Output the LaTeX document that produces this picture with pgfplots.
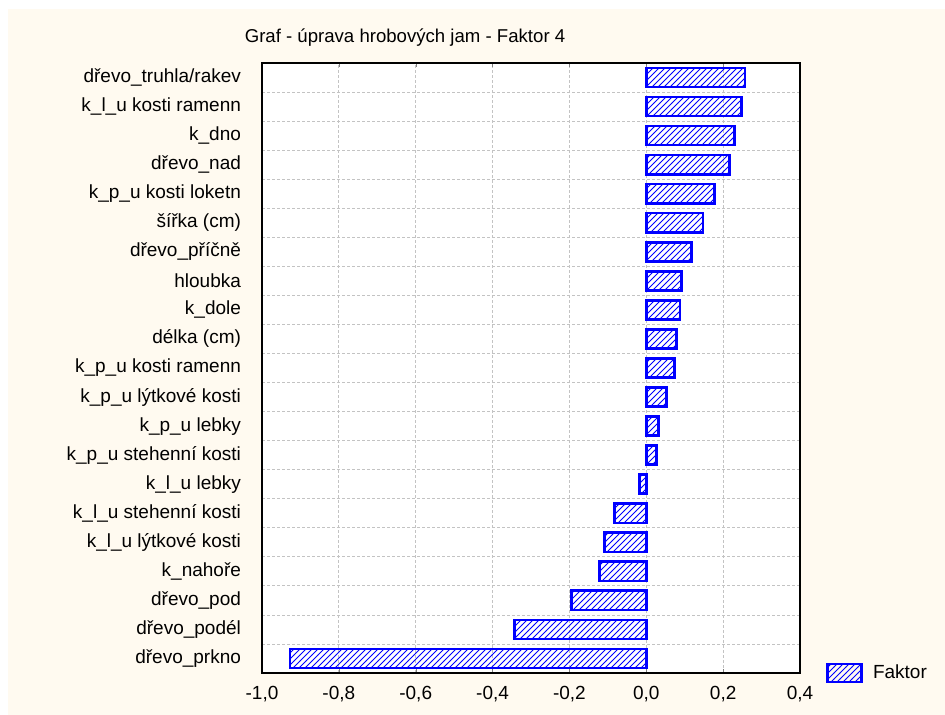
\documentclass[border=0pt]{standalone}
\usepackage{fontspec}
\setmainfont{Liberation Sans}
\usepackage{pgfplots}
\pgfplotsset{compat=1.18}
\usetikzlibrary{patterns}
\definecolor{cream}{RGB}{255,250,240}
\definecolor{gridgray}{RGB}{195,195,195}
\newcommand{\lblfont}{\fontsize{9.5}{11}\selectfont}

\begin{document}
\begin{tikzpicture}[x=1pt,y=1pt]
\fill[white] (0,0) rectangle (472.5,357.5);
\fill[cream] (4,0) rectangle (472.5,353);
\useasboundingbox (0,0) rectangle (472.5,357.5);
\node[font=\fontsize{9.3}{11}\selectfont] at (202.5,338.5) {Graf - úprava hrobových jam - Faktor 4};
\begin{axis}[
  at={(131pt,21pt)}, anchor=south west,
  scale only axis, width=269pt, height=305pt,
  axis background/.style={fill=white},
  axis line style={black, line width=0.8pt},
  xbar, bar width=0.66,
  xmin=-1, xmax=0.4, ymin=0.5, ymax=21.5,
  xtick={-1,-0.8,-0.6,-0.4,-0.2,0,0.2,0.4},
  scaled ticks=false,
  xticklabel style={/pgf/number format/fixed, /pgf/number format/fixed zerofill,
    /pgf/number format/precision=1, /pgf/number format/use comma,
    /pgf/number format/assume math mode=true, font=\lblfont, yshift=-3pt},
  ytick={1,...,21},
  yticklabels={dřevo\_prkno, dřevo\_podél, dřevo\_pod, k\_nahoře, k\_l\_u lýtkové kosti,
    k\_l\_u stehenní kosti, k\_l\_u lebky, k\_p\_u stehenní kosti, k\_p\_u lebky,
    k\_p\_u lýtkové kosti, k\_p\_u kosti ramenn, délka (cm), k\_dole, hloubka,
    dřevo\_příčně, šířka (cm), k\_p\_u kosti loketn, dřevo\_nad, k\_dno,
    k\_l\_u kosti ramenn, dřevo\_truhla/rakev},
  yticklabel style={font=\lblfont, xshift=-7pt},
  ytick style={draw=none},
  minor ytick={1.5,2.5,...,20.5},
  minor y tick style={black},
  major tick length=2pt, minor tick length=2pt,
  tick align=inside,
  xtick pos=both, ytick pos=both,
  xmajorgrids, yminorgrids,
  major grid style={gridgray, dash pattern=on 1.5pt off 1pt, line width=0.4pt},
  minor grid style={gridgray, dash pattern=on 1.5pt off 1pt, line width=0.4pt},
  legend style={at={(1,0)}, anchor=west, xshift=10pt, draw=none, fill=none,
    font=\lblfont, nodes={inner xsep=5pt}},
]
\addplot[draw=blue, line width=1.3pt, pattern=north east lines, pattern color=blue,
  legend image code/.code={\draw[draw=blue, line width=1.3pt, pattern=north east lines, pattern color=blue] (0pt,-4.5pt) rectangle (17pt,4.5pt);}]
  coordinates {
  (0.257,21) (0.247,20) (0.229,19) (0.216,18) (0.177,17) (0.148,16) (0.117,15)
  (0.091,14) (0.088,13) (0.078,12) (0.073,11) (0.052,10) (0.031,9) (0.026,8)
  (-0.018,7) (-0.083,6) (-0.109,5) (-0.122,4) (-0.195,3) (-0.343,2) (-0.927,1)
  };
\legend{Faktor}
\end{axis}
\end{tikzpicture}
\end{document}
